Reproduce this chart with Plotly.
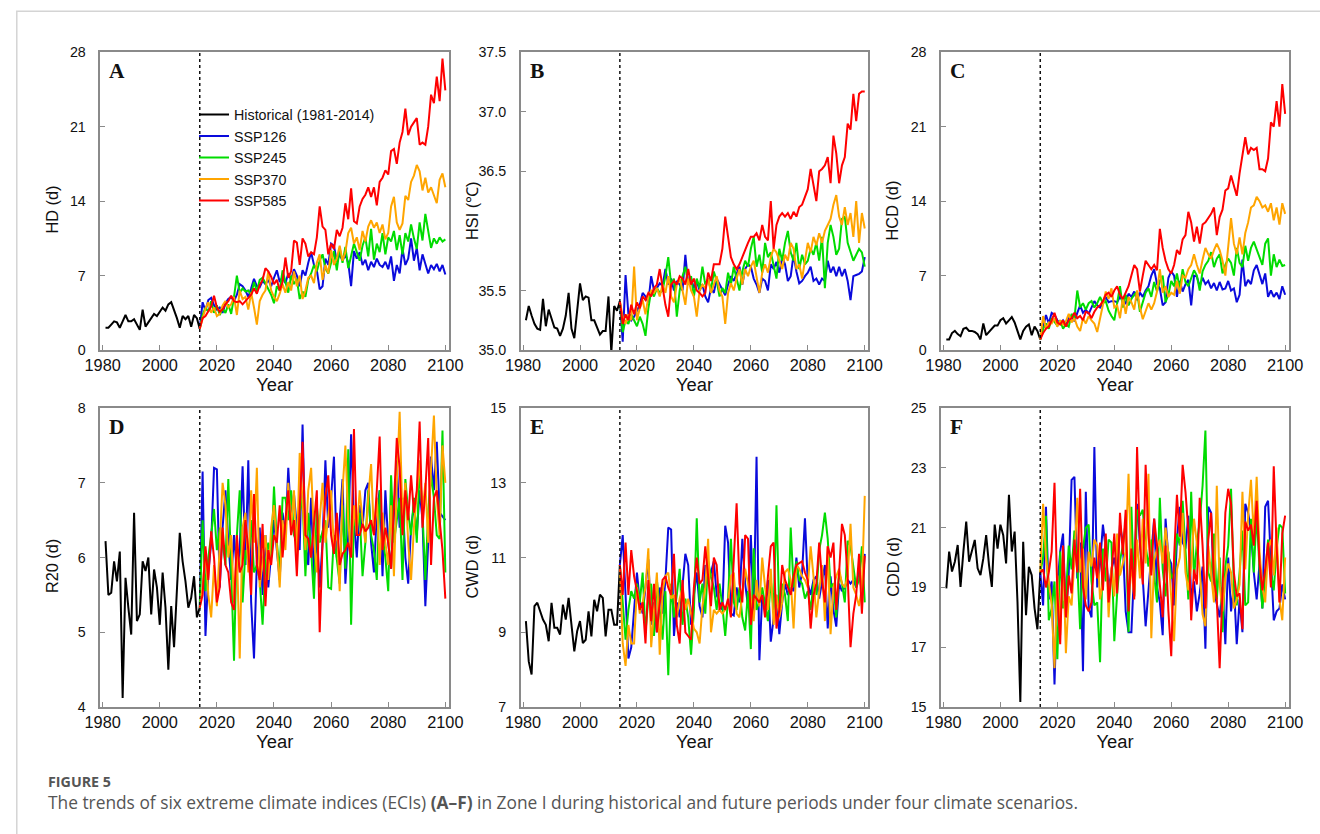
import plotly.graph_objects as go

# Figure size, plus the measured mapping from figure pixels to the photographed window
# (the page is photographed slightly scaled and offset); positions below are given in
# window pixels and converted back to figure coordinates.
W, H = 1320, 834
S, OX, OY = 0.981, 12.3, 7.85


def fx(px):
    return ((px - OX) / S) / W


def fy(py):
    return 1 - ((py - OY) / S) / H


def fs(size):
    return round(size / S, 2)


hist_years = list(range(1981, 2015))
future_years = list(range(2014, 2101))
tick_years = [1980, 2000, 2020, 2040, 2060, 2080, 2100]
split_year = 2014
series_names = ["Historical (1981-2014)", "SSP126", "SSP245", "SSP370", "SSP585"]
series_colors = ["#000000", "#0a0adc", "#00dc00", "#ffa500", "#ff0000"]

# ---------------- Panel A: HD (d) ----------------
hd_hist = [2.1, 2.1, 2.4, 2.7, 2.6, 2.1, 2.7, 3.3, 2.7, 2.7,
           2.9, 2.4, 1.9, 3.8, 2.2, 2.6, 3.0, 3.4, 3.2, 3.6,
           4.0, 3.7, 4.3, 4.5, 3.8, 3.0, 2.1, 3.2, 2.9, 3.2,
           2.2, 3.3, 3.0, 2.0]
hd_ssp126 = [2.0,
             4.5, 3.7, 4.7, 4.9, 4.2, 3.8, 4.0, 3.5, 4.4, 4.8,
             5.0, 4.6, 5.2, 6.2, 6.0, 5.6, 5.0, 5.8, 6.7, 6.0,
             5.9, 6.5, 6.2, 6.6, 6.0, 6.8, 7.5, 6.4, 6.9, 6.3,
             7.2, 6.6, 7.6, 7.0, 6.0, 7.5, 7.0, 8.2, 9.2, 8.0,
             7.5, 5.7, 6.0, 8.6, 8.0, 10.0, 9.8, 8.3, 9.0, 8.4,
             9.0, 8.2, 6.0, 9.3, 8.6, 9.2, 8.0, 8.5, 7.5, 8.3,
             7.8, 8.6, 8.0, 7.8, 8.3, 7.6, 8.8, 6.5, 8.0, 7.2,
             9.5, 8.0, 8.6, 10.5, 8.4, 9.6, 7.5, 9.0, 8.2, 7.2,
             8.0, 7.6, 8.1, 7.4, 8.0, 7.1]
hd_ssp245 = [2.0,
             3.3, 4.0, 3.6, 4.6, 3.5, 4.2, 3.3, 3.9, 3.5, 4.3,
             3.4, 5.0, 7.0, 5.4, 5.8, 5.5, 5.6, 5.2, 6.4, 5.5,
             6.6, 6.8, 6.3, 5.8, 5.2, 4.4, 6.0, 5.6, 7.5, 6.4,
             5.4, 7.0, 6.2, 6.7, 4.8, 5.5, 5.0, 6.6, 7.2, 8.0,
             7.4, 8.4, 9.0, 7.7, 7.2, 8.2, 9.3, 7.5, 9.6, 8.2,
             9.7, 7.7, 8.8, 10.0, 9.2, 8.4, 9.8, 10.6, 8.8, 11.4,
             8.5, 10.0, 9.2, 11.0, 9.0, 10.6, 10.2, 11.2, 9.4, 10.8,
             9.0, 11.0, 10.2, 11.8, 10.5, 9.5, 12.0, 10.3, 12.8, 11.0,
             9.6, 10.5, 10.0, 10.6, 10.2, 10.4]
hd_ssp370 = [2.0,
             3.0, 3.9, 4.5, 3.5, 4.0, 3.2, 3.4, 4.2, 4.6, 4.0,
             4.3, 5.0, 3.3, 5.6, 4.8, 5.0, 3.8, 5.4, 4.0, 2.4,
             4.6, 5.2, 5.6, 7.4, 5.6, 5.0, 4.6, 5.3, 6.2, 5.4,
             6.4, 5.6, 7.4, 6.0, 7.0, 4.8, 5.6, 6.8, 7.0, 6.3,
             8.2, 9.0, 6.6, 8.0, 7.2, 9.4, 8.0, 8.6, 9.8, 8.4,
             9.2, 11.0, 11.5, 10.0, 10.6, 9.4, 11.2, 10.2, 11.6, 12.2,
             11.5, 12.0, 11.0, 11.8, 10.4, 11.0, 13.5, 14.4, 12.0, 11.3,
             11.9, 14.5, 14.1, 15.8, 16.4, 17.4, 16.8, 15.0, 16.2, 14.8,
             15.3, 14.5, 13.8, 16.0, 16.6, 15.3]
hd_ssp585 = [2.0,
             3.0, 3.2, 3.7, 4.1, 5.1, 4.0, 3.6, 3.8, 4.3, 4.6,
             5.1, 4.6, 4.5, 4.6, 4.3, 4.6, 4.9, 5.2, 5.8, 5.3,
             6.1, 6.6, 7.7, 7.4, 6.9, 6.2, 6.6, 5.6, 6.4, 8.7,
             6.8, 7.4, 10.3, 10.1, 8.0, 10.5, 10.0, 8.8, 9.2, 9.0,
             10.6, 13.5, 11.6, 11.3, 9.0, 10.0, 9.5, 11.3, 10.7, 11.5,
             13.8, 12.3, 15.2, 12.1, 11.9, 13.5, 14.2, 14.6, 15.3, 14.4,
             15.3, 13.6, 15.8, 16.2, 16.9, 16.5, 18.7, 18.9, 17.5, 19.5,
             20.5, 22.7, 20.2, 21.0, 21.4, 21.8, 19.3, 19.5, 19.3, 21.0,
             24.0, 23.2, 25.7, 23.4, 27.4, 24.4]

# ---------------- Panel B: HSI (℃) ----------------
hsi_hist = [35.25, 35.37, 35.29, 35.22, 35.18, 35.17, 35.43, 35.20, 35.34, 35.26,
            35.19, 35.18, 35.12, 35.18, 35.29, 35.48, 35.18, 35.10, 35.31, 35.56,
            35.42, 35.45, 35.44, 35.25, 35.25, 35.19, 35.13, 35.16, 35.16, 35.45,
            34.98, 35.37, 35.33, 35.41]
hsi_ssp126 = [35.41,
              35.07, 35.63, 35.30, 35.25, 35.28, 35.33, 35.38, 35.48, 35.45, 35.40,
              35.62, 35.50, 35.52, 35.56, 35.54, 35.68, 35.55, 35.60, 35.50, 35.58,
              35.55, 35.50, 35.80, 35.55, 35.60, 35.52, 35.58, 35.50, 35.55, 35.45,
              35.40, 35.52, 35.48, 35.60, 35.55, 35.50, 35.46, 35.55, 35.62, 35.58,
              35.64, 35.70, 35.55, 35.68, 35.72, 35.70, 35.60, 35.55, 35.48, 35.60,
              35.58, 35.50, 35.72, 35.68, 35.74, 35.65, 35.78, 35.72, 35.58, 35.62,
              35.80, 35.66, 35.56, 35.58, 35.62, 35.65, 35.70, 35.58, 35.60, 35.55,
              35.60, 35.58, 35.75, 35.65, 35.70, 35.62, 35.70, 35.62, 35.68, 35.58,
              35.42, 35.62, 35.63, 35.64, 35.66, 35.78]
hsi_ssp245 = [35.41,
              35.15, 35.25, 35.22, 35.30, 35.25, 35.20, 35.28, 35.22, 35.12, 35.35,
              35.50, 35.45, 35.52, 35.48, 35.50, 35.62, 35.78, 35.55, 35.60, 35.28,
              35.50, 35.62, 35.70, 35.55, 35.62, 35.45, 35.60, 35.52, 35.70, 35.55,
              35.60, 35.50, 35.66, 35.58, 35.45, 35.52, 35.48, 35.65, 35.55, 35.70,
              35.60, 35.50, 35.66, 35.75, 35.70, 35.85, 35.95, 35.70, 35.80, 35.65,
              35.90, 35.78, 35.82, 35.70, 35.60, 35.85, 35.75, 35.90, 36.00, 35.82,
              35.75, 35.90, 35.68, 35.80, 35.72, 35.75, 35.85, 35.80, 35.90, 35.75,
              35.95, 35.52, 35.90, 36.05, 35.95, 35.80, 35.85, 36.10, 36.12, 35.90,
              35.82, 35.75, 35.80, 35.85, 35.82, 35.70]
hsi_ssp370 = [35.41,
              35.28, 35.22, 35.30, 35.25, 35.70, 35.25, 35.35, 35.42, 35.30, 35.45,
              35.50, 35.48, 35.52, 35.45, 35.55, 35.48, 35.62, 35.45, 35.40, 35.55,
              35.60, 35.50, 35.38, 35.60, 35.50, 35.45, 35.28, 35.50, 35.55, 35.52,
              35.60, 35.48, 35.55, 35.62, 35.50, 35.45, 35.22, 35.48, 35.56, 35.50,
              35.60, 35.68, 35.55, 35.68, 35.62, 35.70, 35.75, 35.60, 35.48, 35.65,
              35.72, 35.65, 35.78, 35.85, 35.82, 35.75, 35.68, 35.80, 35.75, 35.90,
              35.85, 35.68, 35.72, 35.60, 35.75, 35.90, 35.82, 35.95, 35.88, 35.98,
              35.90, 36.00, 36.05, 36.10, 36.22, 36.30, 36.12, 36.05, 36.20, 36.05,
              36.15, 35.95, 36.25, 35.90, 36.15, 36.02]
hsi_ssp585 = [35.41,
              35.22, 35.30, 35.25, 35.38, 35.30, 35.40, 35.35, 35.45, 35.42, 35.48,
              35.45, 35.52, 35.55, 35.68, 35.52, 35.38, 35.28, 35.55, 35.58, 35.55,
              35.62, 35.60, 35.55, 35.68, 35.55, 35.60, 35.50, 35.48, 35.45, 35.48,
              35.65, 35.58, 35.72, 35.72, 35.72, 35.85, 36.12, 35.95, 35.78, 35.72,
              35.68, 35.72, 35.78, 35.85, 35.90, 35.95, 35.95, 35.98, 35.92, 36.05,
              35.95, 35.92, 36.25, 35.85, 36.05, 36.12, 36.15, 36.12, 36.15, 36.10,
              36.16, 36.12, 36.20, 36.22, 36.28, 36.35, 36.52, 36.38, 36.25, 36.50,
              36.52, 36.55, 36.62, 36.40, 36.80, 36.65, 36.40, 36.55, 36.62, 36.90,
              36.85, 37.15, 36.92, 37.15, 37.17, 37.17]

# ---------------- Panel C: HCD (d) ----------------
hcd_hist = [1.0, 1.0, 1.6, 1.8, 1.5, 1.3, 2.0, 2.1, 1.8, 1.8,
            1.7, 1.5, 1.0, 2.5, 1.4, 1.7, 2.1, 2.3, 2.3, 2.8,
            3.0, 2.5, 2.8, 3.1, 2.6, 1.8, 1.0, 1.8, 2.2, 2.4,
            1.4, 2.2, 1.8, 1.0]
hcd_ssp126 = [1.0,
              2.2, 3.3, 2.5, 3.5, 3.3, 2.8, 2.5, 2.8, 2.4, 3.0,
              3.2, 2.7, 3.5, 4.2, 3.5, 3.8, 3.4, 4.0, 4.6, 4.2,
              4.0, 4.4, 5.0, 4.5, 4.6, 4.6, 4.5, 5.0, 4.6, 4.4,
              5.3, 5.0, 5.5, 4.7, 5.4, 5.0, 5.6, 6.0, 7.0, 7.6,
              6.2, 5.8, 4.2, 4.5, 6.8, 7.4, 7.0, 5.0, 6.5, 5.5,
              6.2, 6.6, 4.2, 7.0, 6.9, 6.0, 6.8, 6.2, 6.5, 5.8,
              6.3, 5.6, 6.4, 5.7, 5.8, 6.5, 5.6, 5.8, 4.5, 5.2,
              8.5, 6.0, 6.6, 6.2, 7.5, 8.0, 7.0, 6.2, 7.2, 5.0,
              5.6, 5.0, 5.4, 4.8, 6.0, 5.2]
hcd_ssp245 = [1.0,
              2.0, 2.5, 2.0, 3.0, 2.6, 2.3, 2.8, 2.0, 2.4, 2.2,
              3.4, 3.0, 5.6, 4.0, 4.4, 3.8, 4.4, 4.6, 4.0, 4.4,
              5.0, 4.4, 4.6, 3.7, 3.2, 2.8, 4.4, 6.0, 4.0, 5.2,
              4.2, 4.8, 5.2, 5.5, 3.6, 4.5, 5.4, 5.8, 5.0, 6.4,
              5.5, 6.5, 7.0, 4.5, 5.2, 6.5, 6.0, 7.2, 5.8, 7.6,
              6.4, 6.0, 6.8, 7.5, 7.0, 5.6, 7.4, 8.0, 8.4, 9.2,
              7.8, 8.6, 9.0, 7.2, 8.0, 8.6, 8.2, 7.0, 9.6, 8.2,
              7.8, 9.8, 8.4, 9.6, 10.2, 9.4, 8.6, 8.0, 10.0, 10.5,
              7.0, 9.0, 7.8, 8.5, 7.9, 8.0]
hcd_ssp370 = [1.0,
              3.2, 2.0, 2.6, 2.5, 3.0, 2.2, 2.8, 2.4, 2.7, 3.4,
              2.6, 3.0, 2.2, 1.8, 3.0, 2.5, 3.2, 2.8, 2.5, 1.7,
              3.0, 4.2, 5.5, 4.8, 5.8, 4.0, 4.2, 3.0, 5.0, 3.4,
              5.0, 4.5, 3.8, 5.6, 4.0, 2.9, 3.6, 4.4, 3.8, 4.4,
              5.5, 7.6, 5.4, 6.0, 5.0, 5.4, 5.2, 6.5, 5.3, 7.0,
              6.8, 7.6, 8.0, 9.0, 8.0, 7.2, 8.5, 9.6, 9.0, 8.6,
              9.4, 10.0, 9.4, 8.4, 7.0, 9.6, 12.4, 10.0, 9.0, 10.6,
              9.0, 11.0, 12.0, 13.4, 13.6, 14.4, 14.0, 13.4, 13.6, 13.0,
              13.8, 12.2, 13.4, 11.8, 13.8, 12.8]
hcd_ssp585 = [1.0,
              1.6, 2.0, 2.2, 2.8, 3.5, 2.6, 2.4, 2.8, 2.2, 2.8,
              3.0, 3.5, 3.0, 3.2, 2.8, 3.6, 3.5, 3.0, 3.6, 4.0,
              4.2, 4.6, 5.2, 5.4, 5.0, 5.6, 6.0, 5.2, 4.8, 5.4,
              6.0, 7.0, 8.0, 7.6, 5.5, 7.0, 8.4, 8.0, 7.6, 8.0,
              7.5, 11.4, 9.6, 8.4, 7.6, 7.2, 8.0, 9.4, 9.0, 10.4,
              10.8, 13.0, 12.0, 10.2, 11.6, 10.0, 11.8, 12.0, 12.4, 12.8,
              13.4, 10.8, 12.5, 13.2, 15.0, 15.2, 16.4, 15.5, 14.5, 16.6,
              18.5, 20.0, 18.4, 19.0, 18.8, 19.0, 17.0, 17.0, 16.8, 18.0,
              21.4, 21.0, 23.4, 21.0, 25.0, 22.2]

# ---------------- Panel D: R20 (d) ----------------
r20_hist = [6.22, 5.50, 5.53, 5.95, 5.68, 6.08, 4.12, 5.73, 5.33, 4.97,
            6.60, 5.15, 5.24, 5.95, 5.82, 6.00, 5.24, 5.84, 5.60, 5.10,
            5.80, 5.33, 4.50, 5.35, 4.80, 5.68, 6.33, 5.95, 5.68, 5.33,
            5.46, 5.75, 5.20, 5.33]
r20_ssp126 = [5.33,
              7.15, 4.95, 5.80, 6.20, 7.20, 7.18, 5.60, 6.40, 6.90, 6.20,
              5.70, 6.30, 5.80, 6.10, 7.22, 5.90, 7.30, 5.40, 4.65, 5.95,
              6.40, 5.50, 6.30, 5.60, 6.00, 6.50, 6.10, 5.70, 6.60, 6.30,
              7.20, 6.50, 6.85, 6.40, 6.10, 7.78, 6.20, 5.90, 6.80, 5.70,
              6.30, 5.60, 6.20, 7.30, 6.40, 6.80, 7.35, 6.00, 6.50, 7.05,
              5.65, 6.30, 7.65, 6.50, 6.00, 6.70, 6.40, 6.90, 7.00, 6.20,
              5.80, 6.60, 6.90, 5.75, 6.90, 6.20, 5.85, 6.50, 7.30, 6.40,
              6.80, 6.00, 5.65, 6.40, 6.70, 6.30, 6.90, 6.50, 5.35, 6.20,
              7.35, 6.90, 7.55, 6.60, 6.55, 6.50]
r20_ssp245 = [5.33,
              6.50, 5.55, 6.00, 6.30, 6.65, 6.10, 6.40, 6.20, 5.90, 7.05,
              5.90, 4.62, 6.30, 6.90, 5.40, 6.10, 5.95, 6.50, 5.80, 5.90,
              5.70, 5.10, 5.90, 6.20, 6.00, 6.95, 6.20, 5.80, 6.80, 6.80,
              6.50, 6.90, 6.30, 6.20, 6.60, 6.80, 5.75, 6.60, 6.10, 5.45,
              6.70, 6.20, 6.35, 6.50, 5.60, 5.58, 6.30, 6.00, 5.65, 6.70,
              5.85, 7.45, 5.10, 6.50, 6.40, 6.60, 5.75, 6.20, 6.90, 6.30,
              6.10, 5.70, 6.90, 6.30, 6.00, 5.55, 7.10, 6.20, 6.50, 6.80,
              5.70, 7.05, 6.60, 6.30, 6.80, 6.20, 7.20, 6.60, 5.70, 6.60,
              7.10, 6.80, 6.30, 6.25, 7.70, 5.80]
r20_ssp370 = [5.33,
              5.60, 6.10, 5.50, 5.20, 5.90, 5.35, 6.20, 7.00, 6.70, 6.00,
              6.30, 5.40, 6.10, 4.65, 6.40, 6.60, 5.80, 6.90, 6.20, 7.20,
              5.60, 6.00, 6.30, 5.70, 6.40, 6.70, 6.20, 5.60, 6.50, 6.10,
              7.00, 6.40, 6.90, 6.00, 7.40, 6.70, 6.10, 6.90, 7.20, 6.30,
              5.80, 6.50, 7.00, 6.20, 6.60, 6.90, 6.10, 6.40, 5.55, 6.90,
              7.50, 6.50, 6.00, 6.70, 6.30, 6.90, 6.50, 6.20, 6.80, 7.25,
              6.30, 6.80, 5.90, 6.60, 6.20, 5.90, 6.70, 5.75, 7.00, 7.95,
              6.50, 7.00, 6.20, 5.70, 6.40, 6.80, 7.30, 6.60, 7.00, 6.20,
              7.20, 7.90, 6.80, 6.30, 7.50, 7.00]
r20_ssp585 = [5.33,
              5.50, 6.15, 5.70, 6.35, 6.00, 5.40, 5.60, 6.40, 5.90, 5.80,
              5.40, 5.30, 6.30, 5.80, 5.90, 6.50, 6.10, 5.50, 6.85, 5.90,
              5.70, 6.45, 5.35, 6.10, 5.90, 6.30, 6.20, 6.70, 6.00, 6.50,
              6.90, 6.30, 6.50, 5.75, 6.70, 7.55, 6.30, 6.25, 6.00, 6.40,
              6.90, 5.00, 6.20, 6.80, 7.10, 6.30, 6.05, 6.60, 5.90, 6.05,
              6.10, 6.20, 6.00, 7.72, 6.30, 6.30, 6.45, 6.35, 6.40, 6.50,
              6.30, 6.90, 7.62, 6.10, 6.40, 6.20, 5.85, 6.70, 7.60, 7.20,
              6.30, 6.90, 6.50, 7.10, 6.60, 6.90, 7.82, 6.40, 6.90, 7.60,
              5.90, 6.80, 6.90, 6.50, 6.10, 5.45]

# ---------------- Panel E: CWD (d) ----------------
cwd_hist = [9.30, 8.22, 7.87, 9.70, 9.79, 9.56, 9.34, 9.20, 8.76, 9.79,
            9.12, 9.12, 8.94, 9.74, 9.34, 9.92, 9.12, 8.49, 9.03, 9.30,
            8.71, 8.80, 9.56, 8.89, 9.87, 9.56, 10.01, 9.92, 8.89, 9.60,
            9.60, 9.20, 9.20, 10.80]
cwd_ssp126 = [10.80,
              11.60, 10.00, 8.30, 8.60, 9.60, 10.60, 9.80, 9.50, 10.20, 10.95,
              9.20, 9.80, 9.00, 10.20, 9.50, 10.40, 11.80, 11.75, 8.90, 9.80,
              9.40, 10.20, 11.10, 10.80, 9.20, 10.00, 10.60, 9.70, 9.40, 10.80,
              10.30, 10.60, 10.90, 10.00, 9.80, 9.60, 11.85, 11.40, 9.50, 9.45,
              10.20, 9.80, 11.50, 10.30, 9.70, 11.60, 9.40, 13.70, 8.25, 10.00,
              9.60, 10.40, 8.75, 9.40, 10.00, 8.95, 9.80, 10.30, 10.00, 10.20,
              10.10, 11.00, 10.20, 10.60, 12.05, 10.30, 10.00, 10.40, 10.50, 9.90,
              10.30, 10.80, 9.10, 10.50, 9.60, 9.15, 10.30, 10.10, 10.20, 10.40,
              10.30, 10.40, 10.20, 10.70, 10.00, 11.10]
cwd_ssp245 = [10.80,
              9.80, 8.80, 9.60, 10.10, 9.90, 10.30, 9.80, 10.60, 9.00, 9.90,
              10.30, 8.90, 10.40, 9.60, 8.80, 10.10, 7.85, 10.30, 9.40, 10.00,
              10.70, 9.20, 9.90, 9.40, 8.40, 9.60, 12.05, 9.80, 10.30, 9.50,
              10.90, 10.50, 10.20, 9.60, 10.30, 9.70, 8.90, 9.90, 11.50, 9.80,
              9.60, 10.20, 9.40, 9.05, 10.10, 8.55, 11.25, 9.60, 9.80, 10.20,
              9.70, 9.30, 10.40, 9.60, 12.40, 9.50, 10.30, 10.00, 9.30, 11.80,
              10.20, 10.90, 10.40, 10.30, 9.90, 10.10, 9.60, 10.30, 10.00, 11.20,
              11.60, 12.20, 11.50, 10.20, 10.30, 9.40, 10.60, 10.30, 9.80, 11.45,
              11.30, 10.80, 10.20, 10.40, 11.30, 9.80]
cwd_ssp370 = [10.80,
              8.70, 8.10, 9.20, 8.70, 8.70, 10.20, 9.50, 9.80, 10.20, 11.25,
              8.60, 9.60, 10.60, 8.40, 10.10, 10.50, 10.60, 9.90, 10.00, 9.40,
              9.90, 10.20, 9.60, 9.90, 9.50, 9.10, 9.00, 8.70, 9.70, 10.20,
              11.50, 9.00, 9.60, 9.50, 9.60, 9.50, 9.60, 9.80, 10.50, 10.60,
              9.50, 9.40, 10.00, 10.70, 10.30, 9.90, 9.30, 10.40, 9.70, 11.00,
              10.20, 9.60, 10.70, 9.20, 10.00, 9.40, 9.80, 10.60, 10.70, 10.40,
              9.10, 10.80, 10.70, 10.50, 10.40, 10.20, 11.30, 10.50, 9.40, 10.10,
              10.80, 9.30, 11.30, 8.95, 10.20, 10.50, 10.70, 10.30, 10.20, 10.50,
              11.90, 10.20, 10.00, 9.70, 10.20, 12.65]
cwd_ssp585 = [10.80,
              10.00, 11.40, 10.00, 11.20, 10.50, 10.10, 9.60, 9.80, 8.70, 10.40,
              9.30, 10.30, 9.00, 9.80, 10.40, 10.50, 10.20, 10.00, 11.10, 9.20,
              8.70, 10.40, 9.00, 8.90, 8.80, 10.20, 11.00, 10.30, 10.40, 11.30,
              10.40, 9.70, 11.00, 10.80, 9.60, 9.80, 9.60, 9.90, 9.40, 10.80,
              12.45, 10.30, 9.80, 11.60, 11.50, 9.20, 10.00, 9.90, 9.80, 10.00,
              9.40, 10.50, 11.30, 11.40, 9.10, 9.60, 10.80, 10.40, 10.20, 10.00,
              10.50, 10.80, 10.85, 10.90, 10.60, 10.40, 9.10, 10.00, 10.30, 11.40,
              10.40, 9.80, 11.30, 11.00, 11.40, 9.60, 10.60, 11.90, 11.60, 10.50,
              8.60, 9.50, 10.00, 11.10, 9.50, 11.05]

# ---------------- Panel F: CDD (d) ----------------
cdd_hist = [18.97, 20.20, 19.53, 19.86, 20.42, 19.02, 20.20, 21.20, 19.86, 20.20,
            20.59, 19.64, 19.41, 19.97, 20.75, 19.75, 19.02, 21.10, 20.30, 21.10,
            20.75, 19.80, 22.10, 20.20, 20.87, 18.52, 15.17, 20.53, 18.07, 19.69,
            19.41, 18.30, 17.60, 19.50]
cdd_ssp126 = [19.50,
              18.40, 21.70, 18.60, 19.20, 15.75, 19.00, 20.20, 20.80, 18.00, 19.50,
              22.60, 22.70, 19.30, 20.50, 16.20, 22.20, 18.30, 18.00, 23.70, 19.00,
              19.80, 21.10, 20.30, 18.90, 19.60, 20.00, 19.30, 21.10, 20.50, 18.20,
              17.50, 17.50, 19.60, 21.80, 20.50, 19.30, 17.70, 18.90, 20.20, 21.30,
              19.00, 18.50, 17.40, 21.30, 20.00, 19.80, 18.40, 20.60, 21.70, 20.50,
              20.30, 21.40, 18.60, 19.20, 18.20, 18.80, 19.70, 16.95, 21.70, 21.50,
              18.90, 18.40, 18.00, 19.00, 17.10, 20.00, 18.20, 19.10, 17.10, 18.60,
              17.50, 21.80, 21.50, 20.90, 19.50, 18.60, 19.80, 18.30, 21.70, 21.90,
              19.90, 17.90, 18.20, 18.30, 19.10, 18.60]
cdd_ssp245 = [19.50,
              20.00, 21.40, 17.90, 18.30, 19.20, 16.60, 20.20, 18.30, 18.70, 20.40,
              19.60, 20.90, 19.80, 17.60, 20.30, 21.00, 21.10, 19.20, 18.40, 18.50,
              16.50, 20.30, 19.20, 20.60, 20.50, 17.20, 18.80, 19.90, 20.40, 21.20,
              17.50, 21.70, 18.70, 21.60, 21.40, 21.60, 20.40, 19.70, 20.60, 19.40,
              18.50, 22.00, 19.60, 18.70, 20.20, 19.30, 19.50, 20.80, 20.40, 21.90,
              20.20, 18.60, 22.20, 19.30, 20.50, 21.20, 22.40, 24.25, 19.50, 19.20,
              20.80, 18.60, 20.00, 17.50, 19.70, 20.40, 22.30, 19.00, 18.40, 19.50,
              20.90, 18.40, 18.50, 21.30, 19.50, 21.50, 19.60, 18.30, 19.40, 20.60,
              19.50, 18.90, 20.30, 21.10, 21.00, 18.80]
cdd_ssp370 = [19.50,
              21.80, 20.00, 19.20, 18.40, 16.30, 19.40, 17.40, 20.20, 16.80, 18.70,
              18.40, 19.90, 22.00, 19.50, 20.30, 18.60, 20.20, 19.70, 20.60, 20.40,
              18.60, 19.20, 20.70, 18.00, 19.70, 18.70, 20.80, 19.40, 19.80, 20.20,
              22.80, 19.60, 18.70, 20.60, 19.30, 21.30, 19.80, 22.80, 17.30, 19.90,
              20.30, 20.60, 19.80, 21.00, 20.10, 18.60, 17.20, 19.60, 20.00, 21.50,
              19.50, 18.90, 19.70, 21.30, 20.50, 19.60, 18.10, 17.70, 20.40, 19.50,
              18.50, 22.40, 19.10, 18.20, 19.30, 19.80, 19.50, 18.30, 18.60, 19.10,
              22.20, 19.60, 21.40, 22.60, 20.70, 22.70, 20.20, 19.00, 18.50, 20.30,
              20.60, 19.40, 21.00, 18.60, 17.90, 20.00]
cdd_ssp585 = [19.50,
              19.60, 19.00, 19.50, 20.20, 22.50, 18.80, 17.10, 20.40, 18.00, 19.40,
              18.80, 20.60, 19.50, 22.30, 19.00, 18.40, 18.20, 18.50, 20.00, 19.30,
              20.50, 18.90, 20.80, 18.50, 19.40, 20.80, 18.80, 21.50, 20.10, 21.60,
              18.20, 20.30, 18.60, 23.70, 20.50, 19.10, 23.10, 20.80, 19.40, 21.30,
              20.40, 19.10, 18.00, 20.40, 18.20, 16.70, 20.00, 22.10, 20.70, 23.10,
              22.20, 20.90, 17.90, 19.60, 19.10, 22.00, 20.40, 18.30, 20.60, 21.50,
              19.30, 18.60, 16.30, 18.90, 21.50, 22.30, 21.80, 19.50, 18.70, 18.80,
              17.60, 21.20, 20.90, 21.10, 20.40, 21.90, 19.80, 18.90, 19.60, 20.50,
              19.00, 23.05, 20.40, 18.50, 20.80, 21.40]

panels = [
    dict(letter="A", ytitle="HD (d)", yrange=[0, 28], ytick=[0, 7, 14, 21, 28], fmt="",
         data=[hd_hist, hd_ssp126, hd_ssp245, hd_ssp370, hd_ssp585]),
    dict(letter="B", ytitle="HSI (℃)", yrange=[35.0, 37.5], ytick=[35.0, 35.5, 36.5, 37.0, 37.5], fmt=".1f",
         data=[hsi_hist, hsi_ssp126, hsi_ssp245, hsi_ssp370, hsi_ssp585]),
    dict(letter="C", ytitle="HCD (d)", yrange=[0, 28], ytick=[0, 7, 14, 21, 28], fmt="",
         data=[hcd_hist, hcd_ssp126, hcd_ssp245, hcd_ssp370, hcd_ssp585]),
    dict(letter="D", ytitle="R20 (d)", yrange=[4, 8], ytick=[4, 5, 6, 7, 8], fmt="",
         data=[r20_hist, r20_ssp126, r20_ssp245, r20_ssp370, r20_ssp585]),
    dict(letter="E", ytitle="CWD (d)", yrange=[7, 15], ytick=[7, 9, 11, 13, 15], fmt="",
         data=[cwd_hist, cwd_ssp126, cwd_ssp245, cwd_ssp370, cwd_ssp585]),
    dict(letter="F", ytitle="CDD (d)", yrange=[15, 25], ytick=[15, 17, 19, 21, 23, 25], fmt="",
         data=[cdd_hist, cdd_ssp126, cdd_ssp245, cdd_ssp370, cdd_ssp585]),
]

for p in panels:
    assert len(p["data"][0]) == len(hist_years)
    for k in range(1, 5):
        assert len(p["data"][k]) == len(future_years)

# plot-area boxes in window pixels
col_px = [(97, 447), (519, 868), (941, 1290)]
row_px = [(52, 350), (408, 707)]
ytitle_x = [48, 470, 892]

FONT = "Arial, Liberation Sans, sans-serif"
AXIS_GRAY = "#8a8a8a"

fig = go.Figure()
layout_axes = {}
annotations = []
shapes = []

for i, p in enumerate(panels):
    r, c = divmod(i, 3)
    x0, x1 = col_px[c]
    y0, y1 = row_px[r]
    sfx = "" if i == 0 else str(i + 1)
    xa, ya = "x" + sfx, "y" + sfx

    for k in range(5):
        xs = hist_years if k == 0 else future_years
        fig.add_trace(go.Scatter(
            x=xs, y=p["data"][k], mode="lines", name=series_names[k],
            line=dict(color=series_colors[k], width=2),
            xaxis=xa, yaxis=ya, showlegend=(i == 0), legendgroup=series_names[k],
        ))

    layout_axes["xaxis" + sfx] = dict(
        domain=[fx(x0), fx(x1)], anchor=ya, range=[1979.2, 2101.3],
        tickvals=tick_years, ticks="inside", ticklen=5, tickcolor=AXIS_GRAY,
        showline=True, mirror=True, linecolor=AXIS_GRAY, linewidth=1.5,
        showgrid=False, zeroline=False,
        tickfont=dict(family=FONT, size=fs(16), color="#111"),
        title=dict(text="Year", font=dict(family=FONT, size=fs(18), color="#111"), standoff=0),
    )
    layout_axes["yaxis" + sfx] = dict(
        domain=[fy(y1), fy(y0)], anchor=xa, range=p["yrange"],
        tickvals=p["ytick"], tickformat=p["fmt"], ticks="inside", ticklen=5, tickcolor=AXIS_GRAY,
        showline=True, mirror=True, linecolor=AXIS_GRAY, linewidth=1.5,
        showgrid=False, zeroline=False, ticklabelstandoff=10,
        tickfont=dict(family=FONT, size=fs(14), color="#111"),
    )
    annotations.append(dict(
        text=p["ytitle"], xref="paper", yref=ya + " domain",
        x=fx(ytitle_x[c]), y=0.47, xanchor="center", yanchor="middle", textangle=-90,
        showarrow=False, font=dict(family=FONT, size=fs(16), color="#111"),
    ))
    annotations.append(dict(
        text="<b>" + p["letter"] + "</b>", xref=xa + " domain", yref=ya + " domain",
        x=0.02, y=0.985, xanchor="left", yanchor="top", showarrow=False,
        font=dict(family="Times New Roman, Liberation Serif, serif", size=fs(21), color="#111"),
    ))
    shapes.append(dict(
        type="line", xref=xa, yref=ya + " domain", x0=split_year, x1=split_year, y0=0, y1=1,
        line=dict(color="#111", width=1.5, dash="3px,3px"),
    ))

# light outer frame of the figure panel (top and left edges)
shapes.append(dict(type="rect", xref="paper", yref="paper",
                   x0=0.8 / W, x1=1.02, y0=-0.02, y1=fy(11),
                   line=dict(color="#d4d4d4", width=1.5), fillcolor="rgba(0,0,0,0)", layer="below"))

annotations.append(dict(
    text="<b>FIGURE 5</b>", xref="paper", yref="paper", x=fx(42), y=fy(781),
    xanchor="left", yanchor="middle", showarrow=False,
    font=dict(family="Open Sans, Lato, sans-serif", size=fs(14), color="#555"),
))
annotations.append(dict(
    text="The trends of six extreme climate indices (ECIs) <b>(A–F)</b> in Zone I during historical "
         "and future periods under four climate scenarios.",
    xref="paper", yref="paper", x=fx(42), y=fy(802),
    xanchor="left", yanchor="middle", showarrow=False,
    font=dict(family="Open Sans, Lato, sans-serif", size=fs(17), color="#555"),
))

fig.update_layout(
    width=W, height=H, margin=dict(l=0, r=0, t=0, b=0),
    paper_bgcolor="white", plot_bgcolor="white",
    showlegend=True,
    legend=dict(x=fx(191), y=fy(98.5), xanchor="left", yanchor="top",
                bgcolor="rgba(0,0,0,0)", borderwidth=0, tracegroupgap=0, itemwidth=30,
                font=dict(family=FONT, size=fs(14), color="#111")),
    annotations=annotations, shapes=shapes,
    **layout_axes,
)

fig.write_html("out.html")
